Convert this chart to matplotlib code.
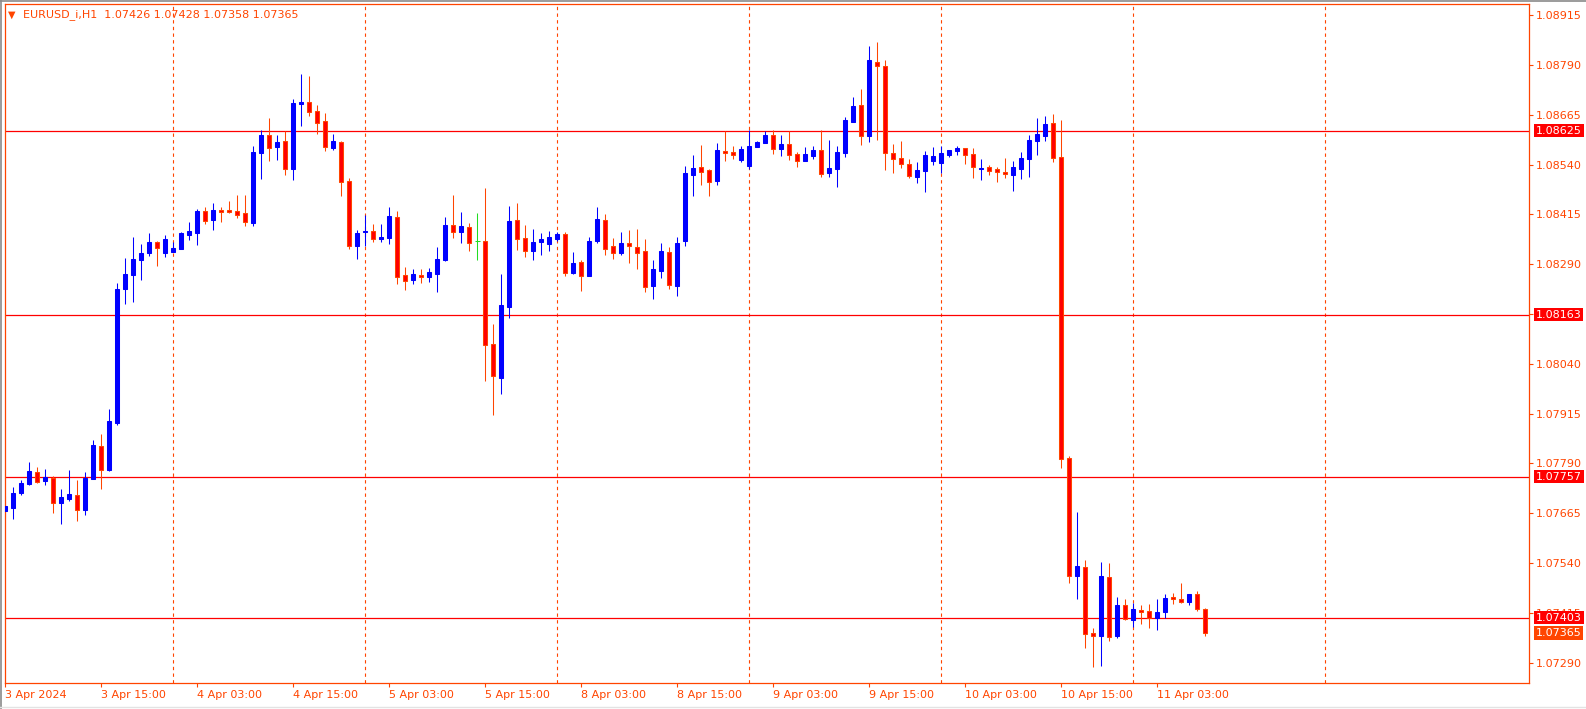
import matplotlib
matplotlib.use("Agg")
import matplotlib.pyplot as plt
import matplotlib.transforms as mtransforms
from matplotlib.lines import Line2D
import numpy as np

# EURUSD_i H1, bars from 3 Apr 2024 03:00 to 11 Apr 2024 09:00
symbol = "EURUSD_i,H1"

opens = [1.07671, 1.07679, 1.07716, 1.07739, 1.07768, 1.07746, 1.07753, 1.07691, 1.07701, 1.07710,
         1.07674, 1.07752, 1.07834, 1.07774, 1.07892, 1.08228, 1.08263, 1.08301, 1.08319, 1.08345,
         1.08319, 1.08321, 1.08328, 1.08363, 1.08368, 1.08423, 1.08401, 1.08426, 1.08426, 1.08423,
         1.08418, 1.08393, 1.08570, 1.08614, 1.08584, 1.08599, 1.08530, 1.08692, 1.08697, 1.08674,
         1.08649, 1.08582, 1.08596, 1.08499, 1.08336, 1.08371, 1.08373, 1.08353, 1.08355, 1.08408,
         1.08263, 1.08251, 1.08263, 1.08258, 1.08266, 1.08301, 1.08388, 1.08371, 1.08383, 1.08347,
         1.08348, 1.08090, 1.08005, 1.08183, 1.08401, 1.08355, 1.08324, 1.08346, 1.08341, 1.08353,
         1.08366, 1.08269, 1.08295, 1.08261, 1.08347, 1.08401, 1.08335, 1.08319, 1.08343, 1.08333,
         1.08323, 1.08236, 1.08274, 1.08320, 1.08236, 1.08348, 1.08514, 1.08534, 1.08526, 1.08499,
         1.08574, 1.08571, 1.08552, 1.08537, 1.08585, 1.08595, 1.08614, 1.08580, 1.08591, 1.08566,
         1.08550, 1.08562, 1.08576, 1.08519, 1.08530, 1.08570, 1.08647, 1.08689, 1.08612, 1.08797,
         1.08787, 1.08569, 1.08556, 1.08541, 1.08509, 1.08524, 1.08550, 1.08544, 1.08564, 1.08574,
         1.08581, 1.08566, 1.08530, 1.08534, 1.08529, 1.08522, 1.08514, 1.08530, 1.08554, 1.08599,
         1.08612, 1.08644, 1.08558, 1.07803, 1.07507, 1.07531, 1.07365, 1.07357, 1.07504, 1.07357,
         1.07436, 1.07398, 1.07423, 1.07420, 1.07403, 1.07418, 1.07454, 1.07451, 1.07443, 1.07462,
         1.07426]

highs = [1.07708, 1.07731, 1.07748, 1.07793, 1.07781, 1.07776, 1.07758, 1.07726, 1.07773, 1.07748,
         1.07768, 1.07849, 1.07864, 1.07926, 1.08243, 1.08305, 1.08358, 1.08340, 1.08368, 1.08348,
         1.08363, 1.08345, 1.08371, 1.08396, 1.08428, 1.08433, 1.08443, 1.08433, 1.08448, 1.08463,
         1.08463, 1.08586, 1.08627, 1.08657, 1.08614, 1.08624, 1.08704, 1.08767, 1.08762, 1.08689,
         1.08669, 1.08616, 1.08599, 1.08506, 1.08376, 1.08414, 1.08391, 1.08391, 1.08433, 1.08423,
         1.08283, 1.08278, 1.08278, 1.08280, 1.08333, 1.08408, 1.08463, 1.08421, 1.08394, 1.08418,
         1.08481, 1.08140, 1.08265, 1.08436, 1.08443, 1.08388, 1.08378, 1.08368, 1.08373, 1.08371,
         1.08371, 1.08320, 1.08300, 1.08358, 1.08433, 1.08416, 1.08355, 1.08371, 1.08376, 1.08378,
         1.08353, 1.08301, 1.08343, 1.08333, 1.08358, 1.08536, 1.08564, 1.08589, 1.08528, 1.08594,
         1.08624, 1.08586, 1.08586, 1.08627, 1.08599, 1.08624, 1.08627, 1.08614, 1.08624, 1.08572,
         1.08584, 1.08586, 1.08627, 1.08601, 1.08586, 1.08659, 1.08709, 1.08729, 1.08837, 1.08847,
         1.08802, 1.08591, 1.08599, 1.08554, 1.08546, 1.08574, 1.08584, 1.08586, 1.08577, 1.08586,
         1.08582, 1.08581, 1.08554, 1.08539, 1.08534, 1.08556, 1.08549, 1.08571, 1.08614, 1.08657,
         1.08662, 1.08667, 1.08652, 1.07809, 1.07669, 1.07547, 1.07376, 1.07544, 1.07541, 1.07456,
         1.07451, 1.07440, 1.07434, 1.07437, 1.07451, 1.07463, 1.07466, 1.07489, 1.07463, 1.07469,
         1.07428]

lows = [1.07653, 1.07651, 1.07711, 1.07737, 1.07740, 1.07737, 1.07666, 1.07639, 1.07695, 1.07646,
        1.07661, 1.07751, 1.07726, 1.07771, 1.07887, 1.08191, 1.08196, 1.08251, 1.08311, 1.08286,
        1.08309, 1.08320, 1.08328, 1.08350, 1.08338, 1.08391, 1.08376, 1.08396, 1.08419, 1.08406,
        1.08386, 1.08386, 1.08504, 1.08549, 1.08551, 1.08514, 1.08501, 1.08637, 1.08662, 1.08617,
        1.08575, 1.08577, 1.08462, 1.08329, 1.08304, 1.08335, 1.08346, 1.08346, 1.08341, 1.08241,
        1.08226, 1.08241, 1.08243, 1.08246, 1.08221, 1.08299, 1.08356, 1.08344, 1.08324, 1.08301,
        1.07997, 1.07912, 1.07965, 1.08156, 1.08326, 1.08309, 1.08301, 1.08314, 1.08324, 1.08348,
        1.08261, 1.08266, 1.08223, 1.08260, 1.08344, 1.08314, 1.08304, 1.08314, 1.08294, 1.08278,
        1.08219, 1.08203, 1.08256, 1.08228, 1.08211, 1.08335, 1.08461, 1.08489, 1.08462, 1.08489,
        1.08550, 1.08555, 1.08547, 1.08530, 1.08584, 1.08594, 1.08567, 1.08562, 1.08552, 1.08534,
        1.08549, 1.08555, 1.08509, 1.08509, 1.08484, 1.08559, 1.08646, 1.08589, 1.08597, 1.08601,
        1.08526, 1.08519, 1.08531, 1.08507, 1.08494, 1.08472, 1.08539, 1.08519, 1.08559, 1.08564,
        1.08542, 1.08507, 1.08502, 1.08514, 1.08497, 1.08507, 1.08474, 1.08504, 1.08509, 1.08565,
        1.08599, 1.08547, 1.07778, 1.07491, 1.07451, 1.07327, 1.07279, 1.07282, 1.07345, 1.07351,
        1.07398, 1.07380, 1.07388, 1.07377, 1.07373, 1.07403, 1.07437, 1.07439, 1.07434, 1.07420,
        1.07358]

closes = [1.07683, 1.07716, 1.07741, 1.07771, 1.07744, 1.07757, 1.07692, 1.07706, 1.07713, 1.07674,
          1.07753, 1.07836, 1.07774, 1.07896, 1.08228, 1.08265, 1.08303, 1.08318, 1.08345, 1.08331,
          1.08353, 1.08330, 1.08368, 1.08373, 1.08423, 1.08399, 1.08426, 1.08421, 1.08420, 1.08413,
          1.08396, 1.08571, 1.08614, 1.08582, 1.08596, 1.08530, 1.08694, 1.08697, 1.08672, 1.08645,
          1.08585, 1.08599, 1.08497, 1.08336, 1.08368, 1.08373, 1.08354, 1.08358, 1.08411, 1.08258,
          1.08248, 1.08265, 1.08258, 1.08270, 1.08303, 1.08388, 1.08371, 1.08386, 1.08344, 1.08347,
          1.08088, 1.08010, 1.08187, 1.08398, 1.08354, 1.08324, 1.08345, 1.08353, 1.08358, 1.08366,
          1.08269, 1.08293, 1.08261, 1.08348, 1.08403, 1.08329, 1.08319, 1.08343, 1.08335, 1.08319,
          1.08234, 1.08278, 1.08323, 1.08238, 1.08343, 1.08519, 1.08531, 1.08522, 1.08497, 1.08576,
          1.08570, 1.08564, 1.08579, 1.08586, 1.08596, 1.08614, 1.08580, 1.08591, 1.08564, 1.08550,
          1.08566, 1.08576, 1.08517, 1.08531, 1.08571, 1.08652, 1.08687, 1.08612, 1.08802, 1.08787,
          1.08570, 1.08554, 1.08542, 1.08511, 1.08526, 1.08564, 1.08561, 1.08569, 1.08576, 1.08581,
          1.08564, 1.08534, 1.08531, 1.08524, 1.08522, 1.08517, 1.08534, 1.08556, 1.08601, 1.08617,
          1.08642, 1.08557, 1.07801, 1.07507, 1.07534, 1.07363, 1.07358, 1.07507, 1.07355, 1.07436,
          1.07401, 1.07426, 1.07418, 1.07403, 1.07418, 1.07453, 1.07449, 1.07442, 1.07462, 1.07425,
          1.07365]

time_tick_bars = [0, 12, 24, 36, 48, 60, 72, 84, 96, 108, 120, 132, 144]
time_tick_labels = ["3 Apr 2024", "3 Apr 15:00", "4 Apr 03:00", "4 Apr 15:00", "5 Apr 03:00",
                    "5 Apr 15:00", "8 Apr 03:00", "8 Apr 15:00", "9 Apr 03:00", "9 Apr 15:00",
                    "10 Apr 03:00", "10 Apr 15:00", "11 Apr 03:00"]
day_separator_bars = [21, 45, 69, 93, 117, 141, 165]

price_ticks = [1.07290, 1.07415, 1.07540, 1.07665, 1.07790, 1.07915, 1.08040,
               1.08165, 1.08290, 1.08415, 1.08540, 1.08665, 1.08790, 1.08915]
level_lines = [1.08625, 1.08163, 1.07757, 1.07403]

UP = "#0000FF"
DOWN_FILL = "#FF0000"
DOWN_EDGE = "#FF4500"
DOJI = "#22DD22"
AXIS = "#FF4500"
LEVEL = "#FF0000"

W, H = 1586, 709
fig = plt.figure(figsize=(W / 100, H / 100), dpi=100)
fig.patch.set_facecolor("white")
ax_left, ax_right, ax_top, ax_bottom = 4.5, 1529.0, 4.3, 682.7
ax = fig.add_axes([ax_left / W, 1 - ax_bottom / H, (ax_right - ax_left) / W, (ax_bottom - ax_top) / H])

o = np.array(opens)
h = np.array(highs)
l = np.array(lows)
c = np.array(closes)
x = np.arange(len(o))
up = c > o
down = c < o
flat = c == o

# wicks
ax.vlines(x[up], l[up], h[up], color=UP, lw=0.75, zorder=2)
ax.vlines(x[down], l[down], h[down], color=DOWN_EDGE, lw=0.75, zorder=2)
ax.vlines(x[flat], l[flat], h[flat], color=DOJI, lw=0.75, zorder=2)

# bodies
ax.bar(x[up], c[up] - o[up], bottom=o[up], width=0.5, color=UP, edgecolor=UP, lw=0.75, zorder=3)
ax.bar(x[down], o[down] - c[down], bottom=c[down], width=0.5, color=DOWN_FILL, edgecolor=DOWN_EDGE,
       lw=0.75, zorder=3)
ax.hlines(o[flat], x[flat] - 0.3, x[flat] + 0.3, color=DOJI, lw=0.75, zorder=3)

# day separators
for b in day_separator_bars:
    ax.axvline(b, color=AXIS, lw=0.8, ls=(0, (3, 3)), zorder=1)

# horizontal levels
for lv in level_lines:
    ax.axhline(lv, color=LEVEL, lw=0.9, zorder=1.5)

ax.set_xlim(-0.125, 190.44)
ax.set_ylim(1.07240, 1.08942)

for sp in ax.spines.values():
    sp.set_color(AXIS)
    sp.set_linewidth(0.9)

ax.yaxis.tick_right()
ax.set_yticks(price_ticks)
ax.set_yticklabels([f"{p:.5f}" for p in price_ticks])
ax.tick_params(axis="y", colors=AXIS, labelsize=8, length=3, width=0.8, pad=2)
ax.set_xticks(time_tick_bars)
ax.set_xticklabels(time_tick_labels)
ax.tick_params(axis="x", colors=AXIS, labelsize=8, length=3, width=0.8, pad=2)
plt.setp(ax.get_xticklabels(), ha="left")

# price labels on the right (they cover the tick labels underneath, as in the terminal)
trans = mtransforms.blended_transform_factory(ax.transAxes, ax.transData)
lab_x = (1536 - ax_left) / (ax_right - ax_left)
for lv in level_lines:
    ax.text(lab_x, lv, f"{lv:.5f}", transform=trans, color="white", fontsize=8, va="center", ha="left",
            clip_on=False, zorder=5,
            bbox=dict(boxstyle="square,pad=0.15", fc=LEVEL, ec="none"))
ax.text(lab_x, closes[-1], f"{closes[-1]:.5f}", transform=trans, color="white", fontsize=8, va="center",
        ha="left", clip_on=False, zorder=5,
        bbox=dict(boxstyle="square,pad=0.15", fc=DOWN_EDGE, ec="none"))

# header line
hx = lambda px: (px - ax_left) / (ax_right - ax_left)
hy = 1 - (14.3 - ax_top) / (ax_bottom - ax_top)
ax.text(hx(7.5), hy, "\u25BC", transform=ax.transAxes, color=AXIS, fontsize=7, va="center", ha="left")
ax.text(hx(23), hy, f"{symbol}  {opens[-1]:.5f} {highs[-1]:.5f} {lows[-1]:.5f} {closes[-1]:.5f}",
        transform=ax.transAxes, color=AXIS, fontsize=8, va="center", ha="left")

# window frame
fig.add_artist(Line2D([0, 1], [1 - 0.8 / H, 1 - 0.8 / H], transform=fig.transFigure, color="#8A8A8A", lw=1.2))
fig.add_artist(Line2D([0.8 / W, 0.8 / W], [0, 1], transform=fig.transFigure, color="#8A8A8A", lw=1.2))
fig.add_artist(Line2D([0, 1], [2.3 / H, 2.3 / H], transform=fig.transFigure, color="#E3E3E3", lw=1.0))

fig.savefig("out.png", dpi=100)
